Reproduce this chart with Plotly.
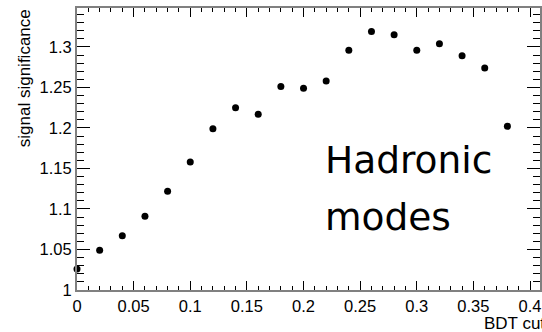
import plotly.graph_objects as go

# BDT cut scan: signal significance vs cut value
bdt_cut = [0.00, 0.02, 0.04, 0.06, 0.08, 0.10, 0.12, 0.14, 0.16, 0.18,
           0.20, 0.22, 0.24, 0.26, 0.28, 0.30, 0.32, 0.34, 0.36, 0.38]
significance = [1.026, 1.049, 1.067, 1.091, 1.122, 1.158, 1.199, 1.225, 1.217, 1.251,
                1.249, 1.258, 1.296, 1.319, 1.315, 1.296, 1.304, 1.289, 1.274, 1.202]

x_tickvals = [0, 0.05, 0.1, 0.15, 0.2, 0.25, 0.3, 0.35, 0.4]
x_ticktext = ["0", "0.05", "0.1", "0.15", "0.2", "0.25", "0.3", "0.35", "0.4"]
y_tickvals = [1, 1.05, 1.1, 1.15, 1.2, 1.25, 1.3]
y_ticktext = ["1", "1.05", "1.1", "1.15", "1.2", "1.25", "1.3"]

W, H = 542, 332
L, R, T, B = 77, 0, 8, 42
PW, PH = W - L - R, H - T - B


def px_x(p):
    return (p - L) / PW


def px_y(p):
    return (H - B - p) / PH


tick_font = dict(family="Liberation Sans, Arial, sans-serif", size=16.5, color="black")
frame_color = "#808080"

fig = go.Figure(
    go.Scatter(
        x=bdt_cut, y=significance, mode="markers",
        marker=dict(color="black", size=7, symbol="circle"),
        cliponaxis=False, showlegend=False,
    )
)

fig.update_xaxes(
    range=[0, 0.4088], tickvals=x_tickvals, ticktext=x_ticktext,
    showgrid=False, zeroline=False, showline=True, linecolor=frame_color, linewidth=2,
    mirror="ticks", ticks="inside", ticklen=9, tickwidth=1, tickcolor="black",
    minor=dict(dtick=0.01, ticks="inside", ticklen=4, tickcolor="black", showgrid=False),
    tickfont=tick_font, ticklabeloverflow="allow",
)
fig.update_yaxes(
    range=[1, 1.348], tickvals=y_tickvals, ticktext=y_ticktext,
    showgrid=False, zeroline=False, showline=True, linecolor=frame_color, linewidth=2,
    mirror="ticks", ticks="inside", ticklen=13, tickwidth=1, tickcolor="black",
    minor=dict(dtick=0.01, ticks="inside", ticklen=7, tickcolor="black", showgrid=False),
    tickfont=tick_font, ticklabeloverflow="allow",
)

title_font = dict(family="Liberation Sans, Arial, sans-serif", size=17, color="black")
big_font = dict(family="DejaVu Sans, sans-serif", size=37.5, color="black")

fig.update_layout(
    width=W, height=H, autosize=False,
    margin=dict(l=L, r=R, t=T, b=B),
    plot_bgcolor="white", paper_bgcolor="white",
    annotations=[
        dict(text="signal significance", textangle=-90, showarrow=False,
             xref="paper", yref="paper", x=px_x(24), y=px_y(7),
             xanchor="center", yanchor="top", font=title_font),
        dict(text="BDT cut", showarrow=False,
             xref="paper", yref="paper", x=px_x(549), y=px_y(323),
             xanchor="right", yanchor="middle", font=title_font),
        dict(text="Hadronic", showarrow=False,
             xref="paper", yref="paper", x=px_x(324), y=px_y(160),
             xanchor="left", yanchor="middle", font=big_font),
        dict(text="modes", showarrow=False,
             xref="paper", yref="paper", x=px_x(324), y=px_y(217),
             xanchor="left", yanchor="middle", font=big_font),
    ],
)

fig.write_html("out.html")
